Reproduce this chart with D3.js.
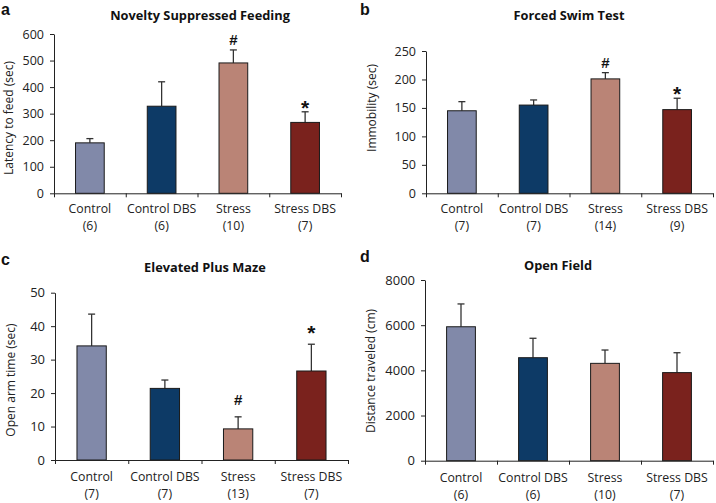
<!DOCTYPE html>
<html>
<head>
<meta charset="utf-8">
<script src="https://cdn.jsdelivr.net/npm/d3@7"></script>
<style>
  html, body { margin: 0; padding: 0; background: #fff; }
  svg { display: block; font-family: "Open Sans", "Noto Sans", sans-serif; }
</style>
</head>
<body>
<svg id="chart" width="716" height="503"></svg>
<script>
// ---------- DATA ----------
const categories = ["Control", "Control DBS", "Stress", "Stress DBS"];
const barColors = ["#8189a9", "#0d3a66", "#ba8476", "#7a221d"];

const nsfTitle = "Novelty Suppressed Feeding";
const nsfYLabel = "Latency to feed (sec)";
const nsfN = ["(6)", "(6)", "(10)", "(7)"];
const nsfMean = [190, 328, 491, 267];
const nsfUpper = [206, 420, 540, 307];
const nsfTicks = [0, 100, 200, 300, 400, 500, 600];
const nsfMarks = ["", "", "#", "*"];

const fstTitle = "Forced Swim Test";
const fstYLabel = "Immobility (sec)";
const fstN = ["(7)", "(7)", "(14)", "(9)"];
const fstMean = [145, 155, 201, 147];
const fstUpper = [161, 164, 212, 167];
const fstTicks = [0, 50, 100, 150, 200, 250];
const fstMarks = ["", "", "#", "*"];

const epmTitle = "Elevated Plus Maze";
const epmYLabel = "Open arm time (sec)";
const epmN = ["(7)", "(7)", "(13)", "(7)"];
const epmMean = [34.1, 21.4, 9.3, 26.6];
const epmUpper = [43.6, 23.9, 12.9, 34.6];
const epmTicks = [0, 10, 20, 30, 40, 50];
const epmMarks = ["", "", "#", "*"];

const ofTitle = "Open Field";
const ofYLabel = "Distance traveled (cm)";
const ofN = ["(6)", "(6)", "(10)", "(7)"];
const ofMean = [5930, 4560, 4310, 3900];
const ofUpper = [6940, 5420, 4900, 4780];
const ofTicks = [0, 2000, 4000, 6000, 8000];
const ofMarks = ["", "", "", ""];

// ---------- LAYOUT ----------
const panels = [
  { letter: "a", title: nsfTitle, ylab: nsfYLabel, n: nsfN, mean: nsfMean, upper: nsfUpper, ticks: nsfTicks, marks: nsfMarks,
    x0: 54, x1: 341, y0: 193.3, y1: 34, letterX: 1, letterY: 15, titleX: 200, titleY: 20, ylabX: 13, ylabY: 118,
    markGap: 10, tfs: 12.5, fs: 12.3, cat1: 20, cat2: 37 },
  { letter: "b", title: fstTitle, ylab: fstYLabel, n: fstN, mean: fstMean, upper: fstUpper, ticks: fstTicks, marks: fstMarks,
    x0: 426, x1: 713, y0: 193.3, y1: 51, letterX: 360, letterY: 15, titleX: 569, titleY: 20, ylabX: 376, ylabY: 108,
    markGap: 10, tfs: 12.5, fs: 12.3, cat1: 20, cat2: 37 },
  { letter: "c", title: epmTitle, ylab: epmYLabel, n: epmN, mean: epmMean, upper: epmUpper, ticks: epmTicks, marks: epmMarks,
    x0: 55, x1: 348, y0: 460, y1: 292.7, letterX: 1, letterY: 265, titleX: 205, titleY: 272, ylabX: 15, ylabY: 380,
    markGap: 17, tfs: 13, fs: 12.3, cat1: 21, cat2: 38 },
  { letter: "d", title: ofTitle, ylab: ofYLabel, n: ofN, mean: ofMean, upper: ofUpper, ticks: ofTicks, marks: ofMarks,
    x0: 425, x1: 713, y0: 460.7, y1: 280, letterX: 360, letterY: 262, titleX: 558, titleY: 270, ylabX: 375, ylabY: 371,
    markGap: 10, tfs: 13, fs: 12.3, cat1: 21, cat2: 38 }
];

const svg = d3.select("#chart");

panels.forEach(p => {
  const g = svg.append("g");
  const maxV = p.ticks[p.ticks.length - 1];
  const y = d3.scaleLinear().domain([0, maxV]).range([p.y0, p.y1]);
  const x = d3.scaleBand().domain(categories).range([p.x0, p.x1]).paddingInner(0.6).paddingOuter(0.3);
  const xt = d3.scaleLinear().domain([0, categories.length]).range([p.x0, p.x1]);

  // panel letter
  g.append("text").attr("x", p.letterX).attr("y", p.letterY)
    .style("font-family", "Liberation Sans, Arial, sans-serif")
    .style("font-weight", "bold").style("font-size", "16px").attr("fill", "#111").text(p.letter);

  // title
  g.append("text").attr("x", p.titleX).attr("y", p.titleY).attr("text-anchor", "middle")
    .style("font-weight", "bold").style("font-size", "12.8px").attr("fill", "#111").text(p.title);

  // y label
  g.append("text").attr("transform", `translate(${p.ylabX},${p.ylabY}) rotate(-90)`)
    .attr("text-anchor", "middle").style("font-size", "12px").attr("fill", "#222").text(p.ylab);

  // error bars (behind bars)
  const idx = d3.range(categories.length);
  g.selectAll(".err").data(idx).join("line")
    .attr("x1", i => x(categories[i]) + x.bandwidth() / 2)
    .attr("x2", i => x(categories[i]) + x.bandwidth() / 2)
    .attr("y1", i => y(p.mean[i]))
    .attr("y2", i => y(p.upper[i]))
    .attr("stroke", "#333").attr("stroke-width", 1.3);
  g.selectAll(".cap").data(idx).join("line")
    .attr("x1", i => x(categories[i]) + x.bandwidth() / 2 - 3.5)
    .attr("x2", i => x(categories[i]) + x.bandwidth() / 2 + 3.5)
    .attr("y1", i => y(p.upper[i]))
    .attr("y2", i => y(p.upper[i]))
    .attr("stroke", "#333").attr("stroke-width", 1.3);

  // bars
  g.selectAll(".bar").data(idx).join("rect")
    .attr("x", i => x(categories[i]))
    .attr("width", x.bandwidth())
    .attr("y", i => y(p.mean[i]))
    .attr("height", i => y(0) - y(p.mean[i]))
    .attr("fill", i => barColors[i])
    .attr("stroke", "#1a1a1a").attr("stroke-width", 1);

  // significance markers
  g.selectAll(".mark").data(idx.filter(i => p.marks[i])).join("text")
    .attr("x", i => x(categories[i]) + x.bandwidth() / 2)
    .attr("y", i => y(p.upper[i]) - p.markGap)
    .attr("text-anchor", "middle")
    .style("font-family", "Liberation Sans, Arial, sans-serif")
    .style("font-weight", "bold")
    .style("font-size", i => p.marks[i] === "*" ? "21px" : "15px")
    .attr("dy", i => p.marks[i] === "*" ? "0.62em" : "0.35em")
    .attr("fill", "#111")
    .text(i => p.marks[i]);

  // y axis
  const ya = g.append("g").attr("transform", `translate(${p.x0},0)`)
    .call(d3.axisLeft(y).tickValues(p.ticks).tickSize(4).tickSizeOuter(0).tickPadding(6).tickFormat(d3.format("d")));
  ya.select(".domain").attr("stroke", "#222");
  ya.selectAll(".tick line").attr("stroke", "#222");
  ya.selectAll(".tick text").style("font-size", p.tfs + "px").style("font-family", "'Open Sans', sans-serif").attr("fill", "#222");

  // x axis (ticks at band boundaries)
  const xa = g.append("g").attr("transform", `translate(0,${p.y0})`)
    .call(d3.axisBottom(xt).tickValues(d3.range(categories.length + 1)).tickSize(4).tickSizeOuter(0).tickFormat(""));
  xa.select(".domain").attr("stroke", "#222");
  xa.selectAll(".tick line").attr("stroke", "#222");

  // category labels
  const labs = g.selectAll(".cat").data(idx).join("text")
    .attr("text-anchor", "middle")
    .style("font-size", p.fs + "px").attr("fill", "#222");
  labs.append("tspan").attr("x", i => x(categories[i]) + x.bandwidth() / 2).attr("y", p.y0 + p.cat1).text(i => categories[i]);
  labs.append("tspan").attr("x", i => x(categories[i]) + x.bandwidth() / 2).attr("y", p.y0 + p.cat2).text(i => p.n[i]);
});
</script>
</body>
</html>
